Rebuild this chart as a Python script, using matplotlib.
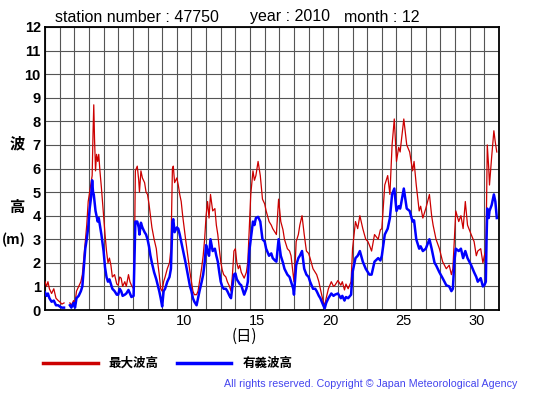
import numpy as np
import matplotlib
matplotlib.use("Agg")
from matplotlib import pyplot as plt

# time in days from 1st 00:00, max wave height, significant wave height (m)
day_t = [0.0, 0.1, 0.2, 0.3, 0.45, 0.6, 0.75, 0.9, 1.0, 1.15, 1.3, 1.4, 1.6, 1.7, 1.8, 1.95,
         2.05, 2.15, 2.3, 2.45, 2.55, 2.65, 2.75, 2.85, 2.95, 3.05, 3.15, 3.22, 3.28, 3.33, 3.38,
         3.45, 3.52, 3.6, 3.67, 3.75, 3.85, 4.0, 4.1, 4.2, 4.3, 4.4, 4.5, 4.6, 4.75, 4.9, 5.0,
         5.1, 5.2, 5.3, 5.45, 5.55, 5.7, 5.8, 5.9, 6.05, 6.12, 6.17, 6.3, 6.4, 6.45, 6.55, 6.65,
         6.8, 6.9, 7.0, 7.1, 7.2, 7.3, 7.45, 7.6, 7.7, 7.8, 7.9, 8.0, 8.1, 8.2, 8.35, 8.5, 8.6,
         8.7, 8.76, 8.85, 9.0, 9.1, 9.2, 9.3, 9.4, 9.5, 9.6, 9.75, 9.9, 10.0, 10.1, 10.2, 10.35,
         10.45, 10.55, 10.7, 10.8, 10.9, 11.0, 11.1, 11.2, 11.3, 11.45, 11.6, 11.7, 11.8, 11.9,
         12.0, 12.1, 12.2, 12.35, 12.45, 12.6, 12.7, 12.8, 12.9, 13.0, 13.1, 13.2, 13.3, 13.4,
         13.6, 13.75, 13.85, 13.95, 14.05, 14.2, 14.3, 14.4, 14.55, 14.7, 14.85, 15.0, 15.1,
         15.3, 15.45, 15.55, 15.7, 15.8, 15.95, 16.1, 16.25, 16.35, 16.55, 16.7, 16.8, 16.95,
         17.0, 17.1, 17.15, 17.3, 17.4, 17.55, 17.7, 17.85, 18.0, 18.1, 18.3, 18.45, 18.55, 18.7,
         18.8, 19.0, 19.1, 19.2, 19.35, 19.55, 19.7, 19.8, 20.0, 20.2, 20.3, 20.45, 20.55, 20.7,
         20.9, 21.0, 21.2, 21.35, 21.5, 21.7, 21.9, 22.05, 22.15, 22.3, 22.5, 22.75, 22.9, 23.0,
         23.2, 23.4, 23.55, 23.7, 23.85, 24.0, 24.15, 24.25, 24.3, 24.5, 24.7, 24.9, 25.1, 25.2,
         25.35, 25.55, 25.65, 25.8, 26.0, 26.25, 26.4, 26.5, 26.6, 26.7, 26.93, 27.15, 27.4,
         27.6, 27.75, 27.85, 27.95, 28.05, 28.25, 28.4, 28.55, 28.7, 28.85, 29.1, 29.3, 29.45,
         29.55, 29.75, 29.9, 30.0, 30.1, 30.15, 30.2, 30.3, 30.35, 30.5, 30.65, 30.75, 30.85]

nan = np.nan
max_h = [1.2, 1.0, 1.2, 0.9, 0.7, 0.9, 0.5, 0.4, 0.35, 0.25, 0.3, nan, nan, 0.3, 0.2, 0.4,
         0.3, 0.8, 1.0, 1.2, 1.5, 2.2, 2.9, 3.6, 4.6, 5.0, 5.4, 5.7, 7.5, 8.7, 7.3,
         5.9, 6.6, 6.3, 6.6, 5.9, 5.2, 4.0, 3.2, 2.5, 2.0, 2.2, 1.9, 1.4, 1.5, 1.1, 1.05,
         1.4, 1.35, 1.0, 1.2, 1.0, 1.5, 1.2, 1.05, 0.9, 3.0, 5.9, 6.1, 5.5, 5.0, 5.9, 5.6,
         5.4, 5.0, 4.9, 4.5, 4.0, 3.5, 3.0, 2.6, 2.0, 1.5, 0.9, 0.8, 1.2, 1.4, 1.75, 2.0, 2.6,
         6.0, 6.1, 5.4, 5.6, 5.3, 4.9, 4.6, 4.0, 3.5, 3.0, 2.3, 1.6, 1.2, 0.8, 0.65, 0.65,
         0.8, 1.2, 1.8, 2.3, 3.0, 4.0, 4.6, 3.9, 4.9, 4.2, 4.3, 3.6, 3.2, 2.6,
         2.05, 1.7, 1.5, 1.4, 1.2, 1.0, 0.8, 1.5, 2.5, 2.6, 2.0, 1.75, 1.9, 1.6,
         1.35, 1.6, 2.05, 3.5, 4.9, 5.9, 5.5, 5.7, 6.3, 5.7, 4.7, 4.5, 4.2,
         3.75, 3.6, 3.45, 3.3, 3.2, 4.7, 3.75, 3.4, 3.0, 2.6, 2.5, 2.3, 1.5,
         1.2, 2.2, 2.9, 3.2, 3.6, 4.0, 3.2, 2.5, 2.4, 2.2, 1.75, 1.6, 1.5, 1.2,
         0.9, 0.35, 0.2, 0.5, 0.9, 1.2, 1.0, 1.05, 1.25, 1.05, 1.2, 0.85, 1.1, 0.9,
         1.2, 2.6, 3.75, 3.45, 4.0, 3.45, 3.0, 2.9, 2.75, 2.5, 3.2, 3.0, 3.4, 3.45,
         5.3, 5.7, 4.9, 7.0, 8.1, 6.3, 6.9, 6.7, 7.0, 8.1, 7.0, 6.7, 5.9, 6.3,
         5.3, 4.2, 4.4, 3.9, 4.3, 4.9, 4.0, 3.6, 3.3, 3.0, 2.6, 2.05, 1.75,
         1.9, 1.5, 1.75, 3.0, 4.2, 3.75, 4.0, 3.45, 4.6, 3.6, 3.2, 2.9, 2.3,
         2.5, 2.6, 2.0, 2.3, 2.5, 4.5, 7.0, 6.0, 5.3, 6.5, 7.6, 7.1, 6.7]

sig_h = [0.75, 0.6, 0.7, 0.5, 0.35, 0.4, 0.2, 0.2, 0.15, 0.1, 0.1, nan, nan, 0.2, 0.1, 0.3,
         0.1, 0.5, 0.6, 0.8, 1.0, 1.8, 2.6, 3.0, 3.5, 4.3, 4.8, 5.5, 5.0, 4.9, 4.6,
         4.2, 4.0, 3.75, 3.9, 3.6, 3.2, 2.5, 1.8, 1.4, 1.2, 1.3, 1.1, 0.9, 0.8, 0.65, 0.65,
         0.9, 0.8, 0.6, 0.65, 0.7, 0.85, 0.7, 0.55, 0.6, 2.5, 3.75, 3.75, 3.5, 3.2, 3.7, 3.5,
         3.3, 3.2, 3.0, 2.7, 2.3, 2.0, 1.6, 1.3, 1.05, 0.8, 0.5, 0.15, 0.8, 0.9, 1.2, 1.4, 1.75,
         3.75, 3.85, 3.3, 3.5, 3.45, 3.2, 2.9, 2.6, 2.3, 2.0, 1.5, 1.0, 0.8, 0.5, 0.35, 0.2,
         0.5, 0.8, 1.2, 1.5, 2.0, 2.75, 2.5, 2.3, 3.0, 2.5, 2.6, 2.3, 2.05, 1.6,
         1.2, 1.0, 0.9, 0.9, 0.8, 0.6, 0.5, 1.0, 1.5, 1.55, 1.3, 1.2, 1.1, 1.05,
         0.65, 0.9, 1.2, 2.5, 3.0, 3.75, 3.6, 3.9, 3.95, 3.75, 3.0, 2.9, 2.6,
         2.3, 2.4, 2.2, 2.1, 2.05, 3.0, 2.3, 2.0, 1.75, 1.5, 1.4, 1.2, 0.9,
         0.65, 1.5, 1.9, 2.2, 2.3, 2.5, 1.75, 1.5, 1.4, 1.2, 0.9, 0.9, 0.8, 0.6,
         0.5, 0.2, 0.07, 0.3, 0.5, 0.7, 0.6, 0.65, 0.7, 0.5, 0.6, 0.4, 0.55, 0.5,
         0.65, 1.6, 2.2, 2.3, 2.5, 2.05, 1.75, 1.6, 1.5, 1.5, 2.05, 2.2, 2.1, 2.3,
         3.2, 3.45, 3.9, 4.9, 5.15, 4.2, 4.4, 4.3, 4.45, 5.15, 4.3, 4.2, 3.75, 3.8,
         3.0, 2.6, 2.7, 2.5, 2.6, 3.0, 2.6, 2.3, 2.0, 1.9, 1.6, 1.35, 1.05,
         1.0, 0.8, 0.9, 2.05, 2.6, 2.5, 2.6, 2.2, 2.5, 2.2, 1.9, 1.6, 1.4,
         1.2, 1.35, 1.0, 1.05, 1.2, 3.0, 4.3, 3.9, 4.2, 4.45, 4.9, 4.6, 3.9]

day_ticks = [4.5, 9.5, 14.5, 19.5, 24.5, 29.5]
day_labels = ["5", "10", "15", "20", "25", "30"]

cjk = ["Noto Sans CJK JP", "DejaVu Sans"]
latin = ["Liberation Sans", "DejaVu Sans"]

fig = plt.figure(figsize=(5.55, 3.95), dpi=100)
ax = fig.add_axes([45 / 555, 1 - 310 / 395, 454 / 555, 283 / 395])

ax.plot(day_t, max_h, color="#cc0000", lw=0.9, zorder=3)
ax.plot(day_t, sig_h, color="#0000ff", lw=1.8, zorder=4)

ax.set_xlim(0, 31)
ax.set_ylim(0, 12)
ax.set_xticks(np.arange(0, 32), minor=True)
ax.set_yticks(np.arange(0, 13))
ax.set_yticklabels([str(v) for v in range(13)], fontweight="bold", family=latin, fontsize=10.5)
ax.set_xticks(day_ticks)
ax.set_xticklabels(day_labels, family=latin, fontsize=10.5)
ax.tick_params(axis="both", which="both", length=0, pad=3)
ax.grid(True, which="minor", axis="x", color="#555555", lw=0.8)
ax.grid(True, which="major", axis="y", color="#555555", lw=0.8)
for s in ax.spines.values():
    s.set_linewidth(1.3)

fig.text(55 / 555, 1 - 17 / 395, "station number : 47750", family=latin, fontsize=11.5, va="center")
fig.text(250 / 555, 1 - 17 / 395, "year : 2010", family=latin, fontsize=11.5, va="center")
fig.text(344 / 555, 1 - 17 / 395, "month : 12", family=latin, fontsize=11.5, va="center")

fig.text(17 / 555, 1 - 143 / 395, "波", family=cjk, fontsize=11, fontweight="bold", ha="center", va="center")
fig.text(17 / 555, 1 - 207 / 395, "高", family=cjk, fontsize=11, fontweight="bold", ha="center", va="center")
fig.text(14 / 555, 1 - 240 / 395, "(m)", family=cjk, fontsize=10, fontweight="bold", ha="center", va="center")
fig.text(244 / 555, 1 - 336 / 395, "(日)", family=cjk, fontsize=11, ha="center", va="center")

fig.add_artist(plt.Line2D([43 / 555, 98 / 555], [1 - 363 / 395] * 2, color="#cc0000", lw=2.5))
fig.text(108 / 555, 1 - 363 / 395, "最大波高", family=cjk, fontsize=9, fontweight="bold", va="center")
fig.add_artist(plt.Line2D([177 / 555, 231 / 555], [1 - 363 / 395] * 2, color="#0000ff", lw=2.5))
fig.text(243 / 555, 1 - 363 / 395, "有義波高", family=cjk, fontsize=9, fontweight="bold", va="center")

fig.text(517 / 555, 1 - 384 / 395, "All rights reserved. Copyright © Japan Meteorological Agency",
         family=latin, fontsize=7.7, color="#4444ee", ha="right", va="center")

fig.savefig("out.png", dpi=100)
